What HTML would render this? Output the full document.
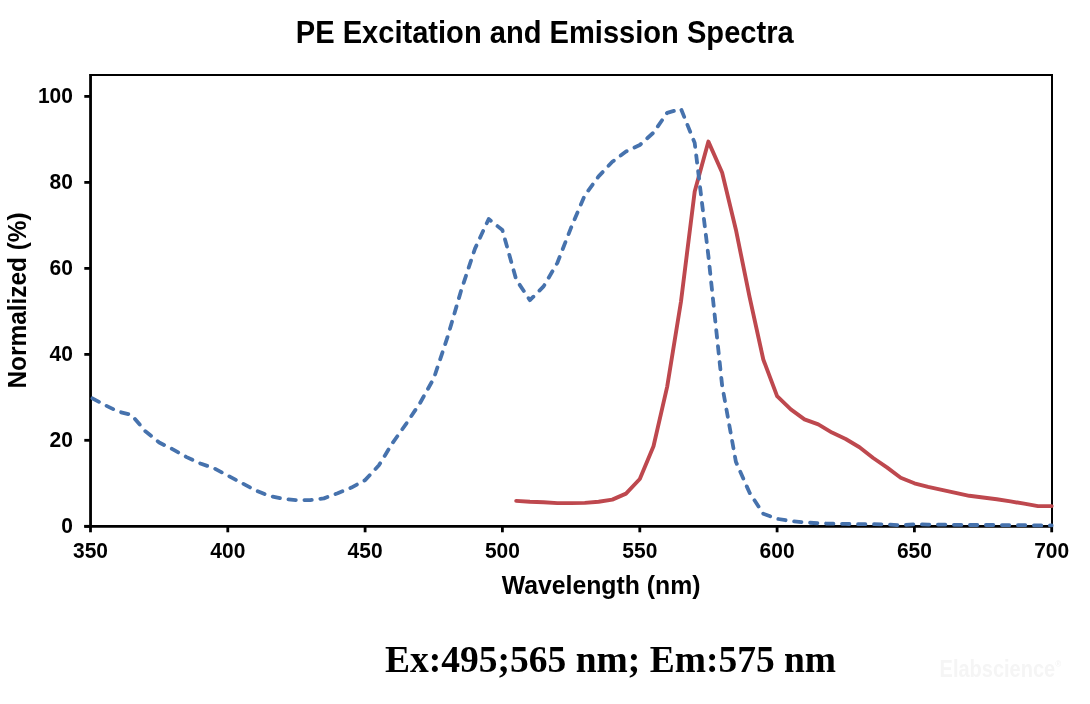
<!DOCTYPE html>
<html><head><meta charset="utf-8"><title>PE Excitation and Emission Spectra</title>
<style>
html,body{margin:0;padding:0;background:#fff}
body{width:1090px;height:704px;overflow:hidden;position:relative}
svg{position:absolute;left:0;top:0;display:block}
text{font-family:"Liberation Sans",Arial,sans-serif;font-weight:bold;fill:#000}
.ax text{font-size:21px}
</style></head><body>
<svg width="1090" height="704" viewBox="0 0 1090 704">
<rect width="1090" height="704" fill="#fff"/>
<text transform="translate(544.7,43.2) scale(1,1.05)" text-anchor="middle" font-size="29.1">PE Excitation and Emission Spectra</text>
<g class="ax"><text transform="translate(90.5,557.8) scale(1,1.07)" text-anchor="middle">350</text><text transform="translate(227.8,557.8) scale(1,1.07)" text-anchor="middle">400</text><text transform="translate(365.1,557.8) scale(1,1.07)" text-anchor="middle">450</text><text transform="translate(502.4,557.8) scale(1,1.07)" text-anchor="middle">500</text><text transform="translate(639.8,557.8) scale(1,1.07)" text-anchor="middle">550</text><text transform="translate(777.1,557.8) scale(1,1.07)" text-anchor="middle">600</text><text transform="translate(914.4,557.8) scale(1,1.07)" text-anchor="middle">650</text><text transform="translate(1051.7,557.8) scale(1,1.07)" text-anchor="middle">700</text><text transform="translate(72.9,533.2) scale(1,1.07)" text-anchor="end">0</text><text transform="translate(72.9,447.2) scale(1,1.07)" text-anchor="end">20</text><text transform="translate(72.9,361.3) scale(1,1.07)" text-anchor="end">40</text><text transform="translate(72.9,275.3) scale(1,1.07)" text-anchor="end">60</text><text transform="translate(72.9,189.3) scale(1,1.07)" text-anchor="end">80</text><text transform="translate(72.9,103.3) scale(1,1.07)" text-anchor="end">100</text></g>
<text transform="translate(26.1,300.45) rotate(-90) scale(1,1.07)" text-anchor="middle" font-size="24.4">Normalized (%)</text>
<text transform="translate(601.05,593.9) scale(1,1.07)" text-anchor="middle" font-size="24.8">Wavelength (nm)</text>
<text x="610.6" y="671.5" text-anchor="middle" font-size="37.5" style="font-family:'Liberation Serif','Times New Roman',serif">Ex:495;565 nm; Em:575 nm</text>
<text transform="translate(939.6,677.2) scale(1,1.17)" font-size="20" style="fill:#f5f5f5">Elabscience<tspan font-size="8" dy="-8.5">®</tspan></text>
<g stroke="#000" stroke-width="2.8" fill="none">
<line x1="90.55" y1="74" x2="90.55" y2="527.7"/>
<line x1="84.3" y1="526.3" x2="1052.7" y2="526.3"/>
<line x1="90.5" y1="526.3" x2="90.5" y2="532.3"/><line x1="227.8" y1="526.3" x2="227.8" y2="532.3"/><line x1="365.1" y1="526.3" x2="365.1" y2="532.3"/><line x1="502.4" y1="526.3" x2="502.4" y2="532.3"/><line x1="639.8" y1="526.3" x2="639.8" y2="532.3"/><line x1="777.1" y1="526.3" x2="777.1" y2="532.3"/><line x1="914.4" y1="526.3" x2="914.4" y2="532.3"/><line x1="1051.7" y1="526.3" x2="1051.7" y2="532.3"/><line x1="84.3" y1="526.3" x2="90.6" y2="526.3"/><line x1="84.3" y1="440.3" x2="90.6" y2="440.3"/><line x1="84.3" y1="354.4" x2="90.6" y2="354.4"/><line x1="84.3" y1="268.4" x2="90.6" y2="268.4"/><line x1="84.3" y1="182.4" x2="90.6" y2="182.4"/><line x1="84.3" y1="96.4" x2="90.6" y2="96.4"/>
</g>
<g stroke="#000" stroke-width="2" fill="none">
<line x1="89.7" y1="75" x2="1053" y2="75"/>
<line x1="1052" y1="74" x2="1052" y2="526"/>
</g>
<polyline points="516.2,500.9 529.9,501.8 543.6,502.2 557.4,503.1 571.1,503.1 584.8,502.9 598.6,501.8 612.3,499.6 626.0,493.6 639.8,479.0 653.5,446.3 667.2,386.6 681.0,301.5 694.7,191.4 708.4,141.6 722.1,172.5 735.9,229.7 749.6,297.2 763.3,359.5 777.1,396.1 790.8,409.4 804.5,419.3 818.3,424.4 832.0,432.6 845.7,439.0 859.5,447.2 873.2,458.0 886.9,467.4 900.7,477.7 914.4,483.3 928.1,486.8 941.8,489.8 955.6,492.8 969.3,495.8 983.0,497.5 996.8,499.2 1010.5,501.4 1024.2,503.7 1038.0,506.1 1051.7,506.1" fill="none" stroke="#be484e" stroke-width="3.9" stroke-linejoin="round" stroke-linecap="round"/>
<polyline points="90.5,397.3 104.2,404.7 118.0,411.5 131.7,415.0 145.4,431.3 159.2,442.5 172.9,449.4 186.6,457.1 200.4,463.5 214.1,468.3 227.8,475.6 241.5,482.9 255.3,490.2 269.0,495.8 282.7,498.8 296.5,500.1 310.2,500.1 323.9,498.4 337.7,493.2 351.4,487.6 365.1,480.1 378.9,465.3 392.6,442.9 406.3,423.6 420.1,402.9 433.8,378.4 447.5,337.2 461.2,290.3 475.0,248.6 488.7,219.0 502.4,230.1 516.2,279.6 529.9,300.2 543.6,286.4 557.4,262.8 571.1,227.6 584.8,195.3 598.6,176.4 612.3,161.8 626.0,151.5 639.8,145.0 653.5,132.6 667.2,112.8 681.0,108.9 694.7,142.9 708.4,255.9 722.1,385.3 735.9,461.8 749.6,492.8 763.3,513.8 777.1,518.8 790.8,521.1 804.5,522.4 818.3,523.3 832.0,523.7 845.7,523.9 859.5,524.2 873.2,524.2 886.9,524.4 900.7,525.4 914.4,524.2 928.1,524.6 941.8,524.6 955.6,524.8 969.3,525.0 983.0,525.0 996.8,525.0 1010.5,525.2 1024.2,525.2 1038.0,525.4 1051.7,525.4" fill="none" stroke="#4672ad" stroke-width="3.8" stroke-linejoin="round" stroke-linecap="round" stroke-dasharray="7.4 8.6" stroke-dashoffset="-2.2"/>
</svg>
</body></html>
